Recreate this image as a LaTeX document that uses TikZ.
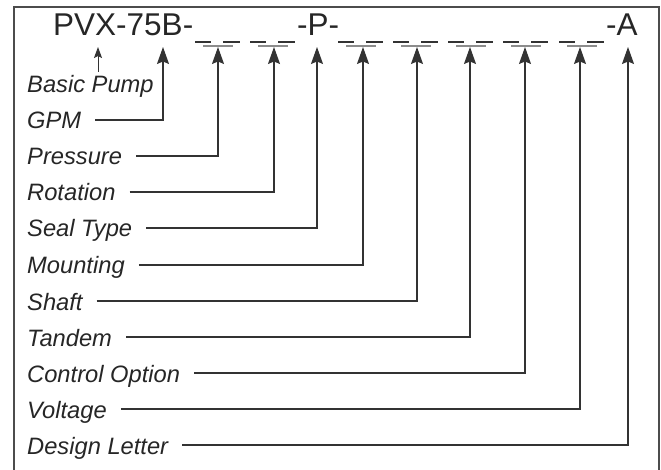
\documentclass[tikz,border=0pt]{standalone}
\usepackage{fontspec}
\setmainfont{Liberation Sans}
\usetikzlibrary{arrows.meta}
\tikzset{
  bigtip/.tip={Stealth[length=17pt,width=12pt,inset=2.5pt]},
  smalltip/.tip={Stealth[length=11pt,width=8pt,inset=2pt]}
}
\begin{document}
\begin{tikzpicture}[x=1pt,y=-1pt,
  lbl/.style={anchor=base west, inner sep=0pt, font=\fontsize{23.7}{24}\selectfont\itshape, text=black!85},
  ttl/.style={anchor=base west, inner sep=0pt, font=\fontsize{31.5}{32}\selectfont, text=black!85},
  conn/.style={draw=black!80, line width=1.2pt, arrows={-bigtip}},
  smallconn/.style={draw=black!80, line width=1pt, arrows={-smalltip}},
  blankdark/.style={draw=black!80, line width=2.2pt},
  blankgray/.style={draw=black!45, line width=1.6pt},
  frame/.style={draw=black!70, line width=1.6pt}
]
\useasboundingbox (0,0) rectangle (661,470);
\draw[frame] (14,7) rectangle (659,490);

% title
\node[ttl] (pvx) at (53,36) {PVX-75B-};
\node[ttl] (pp) at (297,36) {-P-};
\node[ttl] (aa) at (606,36) {-A};
\foreach \n/\L in {1/195,2/250,3/338,4/393,5/448,6/503,7/559}{
  \coordinate (b\n) at (\L,42);
  \draw[blankdark] (b\n) -- ++(16,0) (b\n) ++(28,0) -- ++(17,0);
  \draw[blankgray] ([shift={(8,4)}]b\n) -- ++(30,0);
}

% arrow targets
\coordinate (t1) at (98,47);
\coordinate (t1s) at (98,72);
\coordinate (t2) at (163,47);
\coordinate (t3) at (218,47);
\coordinate (t4) at (274,47);
\coordinate (t5) at (317,47);
\coordinate (t6) at (363,47);
\coordinate (t7) at (417,47);
\coordinate (t8) at (470,47);
\coordinate (t9) at (525,47);
\coordinate (t10) at (580,47);
\coordinate (t11) at (628,47);

% labels
\node[lbl] (l1) at (27,93) {Basic Pump};
\node[lbl] (l2) at (27,129) {GPM};
\node[lbl] (l3) at (27,165) {Pressure};
\node[lbl] (l4) at (27,201) {Rotation};
\node[lbl] (l5) at (27,237) {Seal Type};
\node[lbl] (l6) at (27,274) {Mounting};
\node[lbl] (l7) at (27,310) {Shaft};
\node[lbl] (l8) at (27,346) {Tandem};
\node[lbl] (l9) at (27,382) {Control Option};
\node[lbl] (l10) at (27,418) {Voltage};
\node[lbl] (l11) at (27,454) {Design Letter};

% connectors
\draw[smallconn] (t1s) -- (t1);
\foreach \i in {2,...,11}{
  \draw[conn] ([shift={(14,-9)}]l\i.base east) -| (t\i);
}
\end{tikzpicture}
\end{document}
